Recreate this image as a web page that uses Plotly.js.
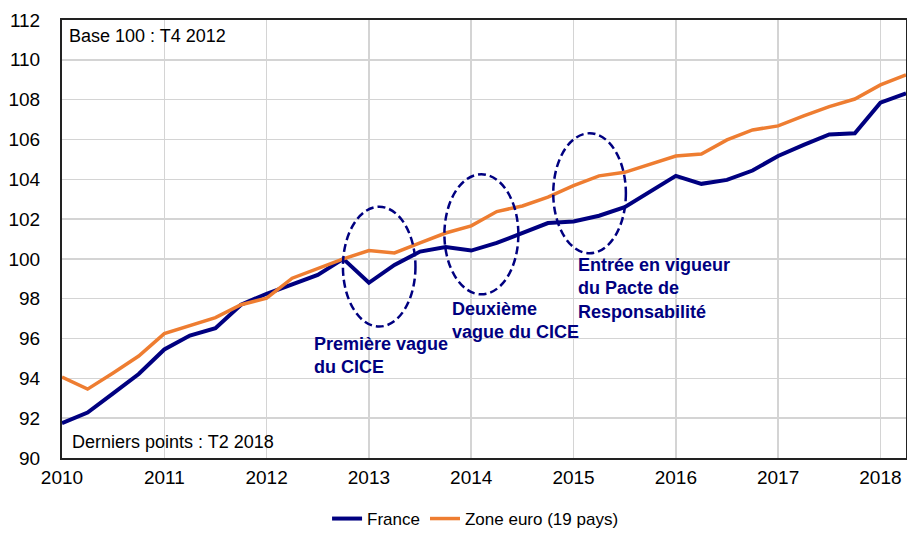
<!DOCTYPE html>
<html>
<head>
<meta charset="utf-8">
<script src="https://cdn.plot.ly/plotly-3.0.1.min.js"></script>
<style>
  html, body { margin: 0; padding: 0; background: #ffffff; }
  #chart { width: 907px; height: 537px; }
</style>
</head>
<body>
<div id="chart"></div>
<script>
// Quarters T1 2010 .. T2 2018 as decimal years (T1 plotted at the year mark)
var quarters = [
  2010.00, 2010.25, 2010.50, 2010.75,
  2011.00, 2011.25, 2011.50, 2011.75,
  2012.00, 2012.25, 2012.50, 2012.75,
  2013.00, 2013.25, 2013.50, 2013.75,
  2014.00, 2014.25, 2014.50, 2014.75,
  2015.00, 2015.25, 2015.50, 2015.75,
  2016.00, 2016.25, 2016.50, 2016.75,
  2017.00, 2017.25, 2017.50, 2017.75,
  2018.00, 2018.25
];

var france = [
  91.75, 92.28, 93.25, 94.22,
  95.45, 96.15, 96.52, 97.70,
  98.25, 98.70, 99.20, 100.00,
  98.80, 99.70, 100.37, 100.60,
  100.42, 100.80, 101.30, 101.80,
  101.88, 102.17, 102.60, 103.38,
  104.17, 103.77, 103.97, 104.44,
  105.17, 105.73, 106.25, 106.31,
  107.85, 108.32
];

var zoneEuro = [
  94.07, 93.46, 94.27, 95.12,
  96.25, 96.65, 97.05, 97.70,
  98.03, 99.03, 99.53, 100.00,
  100.42, 100.30, 100.80, 101.30,
  101.66, 102.38, 102.66, 103.10,
  103.68, 104.17, 104.35, 104.77,
  105.17, 105.27, 105.98, 106.48,
  106.68, 107.18, 107.65, 108.03,
  108.74, 109.24
];

var seriesNames = ["France", "Zone euro (19 pays)"];
var yearTicks = [2010, 2011, 2012, 2013, 2014, 2015, 2016, 2017, 2018];
var valueTicks = [90, 92, 94, 96, 98, 100, 102, 104, 106, 108, 110, 112];

var noteBase = "Base 100 : T4 2012";
var noteLast = "Derniers points : T2 2018";
var label1 = "Première vague<br>du CICE";
var label2 = "Deuxième<br>vague du CICE";
var label3 = "Entrée en vigueur<br>du Pacte de<br>Responsabilité";

var NAVY = "#000080";
var ORANGE = "#EE7D31";
var FONT = "'Liberation Sans', Arial, sans-serif";

var traces = [
  { x: quarters, y: france, name: seriesNames[0], type: "scatter", mode: "lines",
    line: { color: NAVY, width: 4 }, hoverinfo: "skip" },
  { x: quarters, y: zoneEuro, name: seriesNames[1], type: "scatter", mode: "lines",
    line: { color: ORANGE, width: 3.5 }, hoverinfo: "skip" }
];

var ellipseLine = { color: NAVY, width: 2.5, dash: "8px,4px" };

var layout = {
  width: 907, height: 537,
  margin: { l: 62, r: 1, t: 20, b: 79 },
  paper_bgcolor: "#ffffff",
  plot_bgcolor: "#ffffff",
  font: { family: FONT, size: 18, color: "#000000" },
  showlegend: true,
  legend: {
    orientation: "h", xanchor: "center", yanchor: "bottom",
    xref: "paper", yref: "container",
    x: 0.49, y: -0.012, font: { size: 17, color: "#000000" },
    itemwidth: 30, tracegroupgap: 0, bgcolor: "rgba(0,0,0,0)"
  },
  xaxis: {
    range: [2010, 2018.25], tickmode: "array", tickvals: yearTicks,
    ticktext: yearTicks.map(String),
    showgrid: true, gridcolor: "#d4d4d4", gridwidth: 1.5,
    showline: true, linecolor: "#222222", linewidth: 2, mirror: true,
    ticks: "", zeroline: false, ticklabelstandoff: 1,
    tickfont: { size: 19, family: FONT }
  },
  yaxis: {
    range: [90, 112], tickmode: "array", tickvals: valueTicks,
    ticktext: valueTicks.map(String),
    showgrid: true, gridcolor: "#d4d4d4", gridwidth: 1.5,
    showline: true, linecolor: "#222222", linewidth: 2, mirror: true,
    ticks: "", zeroline: false, ticklabelstandoff: 16,
    tickfont: { size: 19, family: FONT }
  },
  shapes: [
    { type: "circle", xref: "x", yref: "y", x0: 2012.746, x1: 2013.455, y0: 96.6, y1: 102.62, line: ellipseLine },
    { type: "circle", xref: "x", yref: "y", x0: 2013.738, x1: 2014.461, y0: 98.22, y1: 104.25, line: ellipseLine },
    { type: "circle", xref: "x", yref: "y", x0: 2014.802, x1: 2015.512, y0: 100.28, y1: 106.31, line: ellipseLine }
  ],
  annotations: [
    { xref: "paper", yref: "paper", x: 0.006, y: 0.9635, xanchor: "left", yanchor: "middle",
      text: noteBase, showarrow: false, font: { size: 18, color: "#000000" } },
    { xref: "paper", yref: "paper", x: 0.009, y: 0.037, xanchor: "left", yanchor: "middle",
      text: noteLast, showarrow: false, font: { size: 18, color: "#000000" } },
    { xref: "x", yref: "y", x: 2012.445, y: 95.15, xanchor: "left", yanchor: "middle", align: "left",
      text: "<b>" + label1 + "</b>", showarrow: false, font: { size: 18, color: NAVY } },
    { xref: "x", yref: "y", x: 2013.795, y: 96.89, xanchor: "left", yanchor: "middle", align: "left",
      text: "<b>" + label2 + "</b>", showarrow: false, font: { size: 18, color: NAVY } },
    { xref: "x", yref: "y", x: 2015.025, y: 98.5, xanchor: "left", yanchor: "middle", align: "left",
      text: "<b>" + label3 + "</b>", showarrow: false, font: { size: 18, color: NAVY } }
  ]
};

Plotly.newPlot("chart", traces, layout, { displayModeBar: false, staticPlot: true });
</script>
</body>
</html>
